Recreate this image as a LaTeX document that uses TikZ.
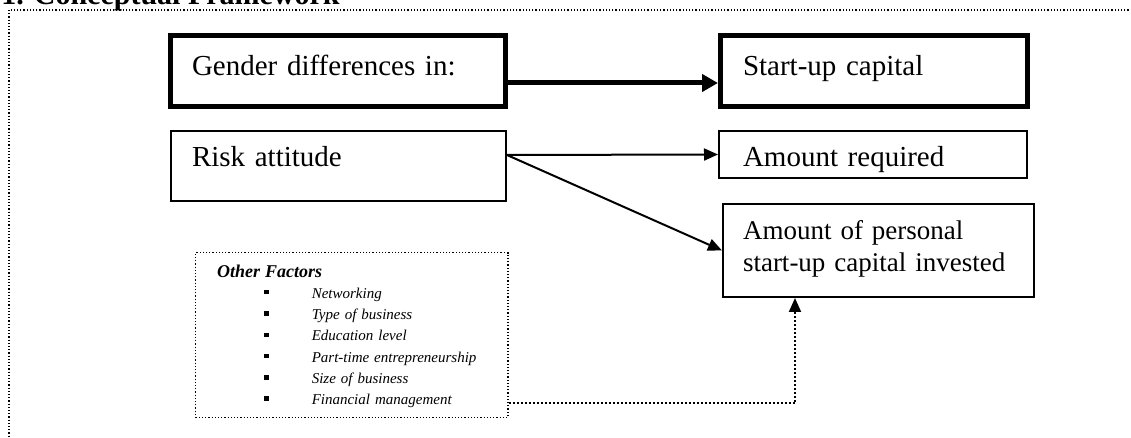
\documentclass[tikz,border=0pt]{standalone}
\usepackage{fontspec}
\setmainfont{Liberation Serif}
\usepackage{tikz}
\usetikzlibrary{arrows.meta, positioning}
\newcommand{\boxfont}{\fontsize{14.5}{16}\selectfont}
\newcommand{\listfont}{\fontsize{7.5}{10.65}\selectfont}
\newcommand{\factoritem}[1]{\makebox[47.35pt][l]{\hspace*{23.65pt}\rule[2pt]{2.2pt}{2.2pt}}\textit{#1}}

\begin{document}
\begin{tikzpicture}[x=0.5pt,y=-0.5pt,
          box/.style={draw,line width=1pt,anchor=north west,align=left,
                      inner ysep=0pt,font=\boxfont},
          mainbox/.style={box,line width=2.5pt,text height=20.25pt,text depth=15.25pt},
          dotline/.style={line width=0.65pt,dash pattern=on 0.6pt off 1pt},
          thinarrow/.style={-{Triangle[length=7pt,width=6pt]},line width=1pt},
          thickarrow/.style={-{Triangle[length=8pt,width=8.5pt]},line width=2.5pt}]
        \useasboundingbox (0,0) rectangle (1131,438);
        \node[font=\bfseries\fontsize{15}{18}\selectfont,anchor=base west,inner sep=0pt]
          (title) at (1,5) {1. Conceptual Framework};
        \draw[dotline] (9,10) rectangle (1140,450);
        \node[mainbox,inner xsep=10.75pt,text width=146pt] (gender) at (168,33) {Gender differences in:};
        \node[mainbox,inner xsep=11.25pt,text width=131pt] (startup) at (718,33) {Start-up capital};
        \node[box,inner xsep=10.5pt,text width=146.5pt,text height=18pt,text depth=17pt]
          (risk) at (170,130) {Risk attitude};
        \node[box,inner xsep=12pt,text width=130pt,text height=18pt,text depth=5.5pt]
          (required) at (718,130) {Amount required};
        \node[box,font=\fontsize{13.5}{16}\selectfont,inner xsep=10pt,text width=135.5pt,
              text height=18pt,text depth=28.5pt]
          (personal) at (722,203) {\mbox{Amount of personal}\\\mbox{start-up capital invested}};
        \node[box,dotline,font=\listfont,inner xsep=10.7pt,text width=134.7pt,
              text height=12.2pt,text depth=70.2pt] (factors) at (195,252)
          {{\bfseries\itshape\fontsize{9}{10.65}\selectfont Other Factors}\\
           \factoritem{Networking}\\
           \factoritem{Type of business}\\
           \factoritem{Education level}\\
           \factoritem{Part-time entrepreneurship}\\
           \factoritem{Size of business}\\
           \factoritem{Financial management}};
        \coordinate (riskout) at ([yshift=5.5pt]risk.east);
        \draw[thickarrow] ([yshift=-6pt]gender.east) -- ([yshift=-6pt]startup.west);
        \draw[thinarrow] (riskout) -- (required.west);
        \draw[thinarrow] (riskout) -- (personal.west);
        \draw[thinarrow,dash pattern=on 1pt off 1pt]
          ([yshift=-34pt]factors.east) -| ([xshift=-41.75pt]personal.south);
      \end{tikzpicture}
\end{document}
